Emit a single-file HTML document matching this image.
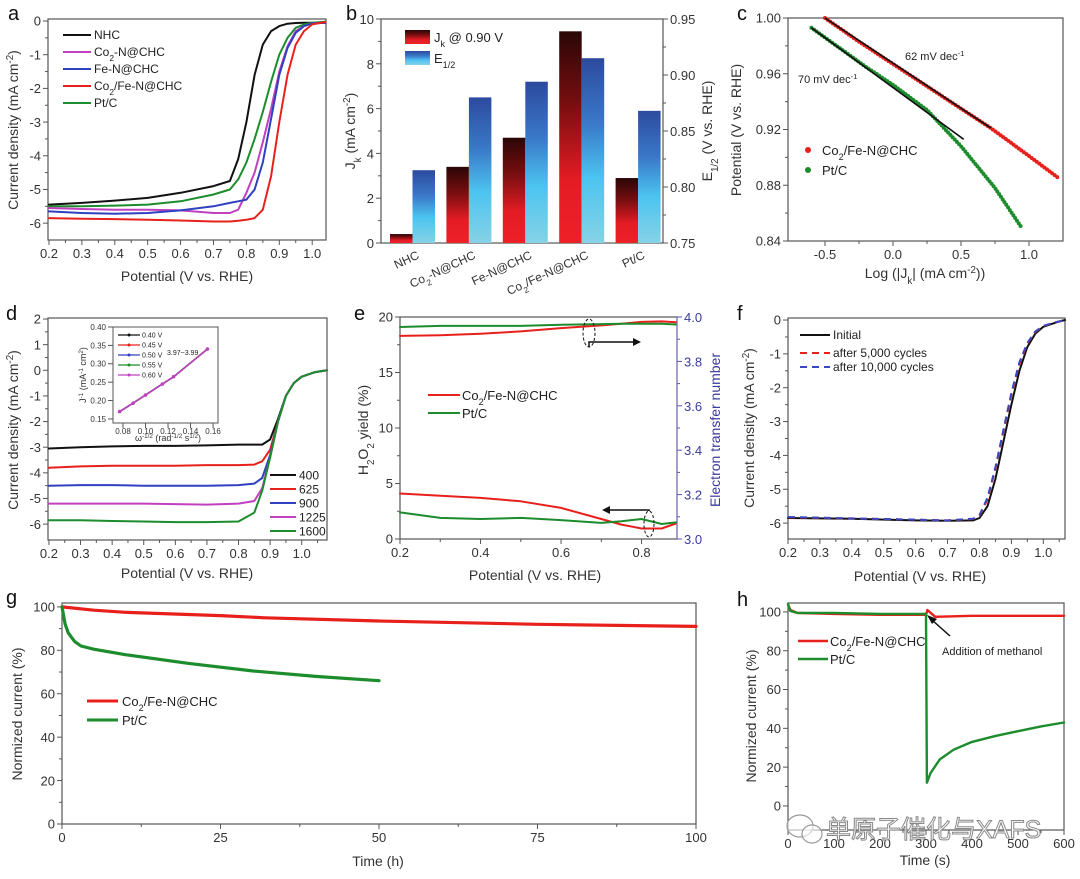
<!DOCTYPE html>
<html><head><meta charset="utf-8"><style>
html,body{margin:0;padding:0;background:#fff;}
svg{display:block;font-family:"Liberation Sans","Noto Sans CJK SC",sans-serif;}
</style></head><body>
<svg id="fig" width="1080" height="879" viewBox="0 0 1080 879" xmlns="http://www.w3.org/2000/svg">
<defs>
<linearGradient id="gRed" x1="0" y1="0" x2="0" y2="1"><stop offset="0" stop-color="#2a0606"/><stop offset="0.35" stop-color="#7a0e10"/><stop offset="0.7" stop-color="#e41c24"/><stop offset="1" stop-color="#ee2028"/></linearGradient>
<linearGradient id="gBlue" x1="0" y1="0" x2="0" y2="1"><stop offset="0" stop-color="#2c4a9e"/><stop offset="0.35" stop-color="#3a78c8"/><stop offset="0.65" stop-color="#4cc4f0"/><stop offset="1" stop-color="#86d2e6"/></linearGradient>
</defs>
</svg>
<script>
// ---- data ----
const aX=[0.2,0.3,0.4,0.5,0.6,0.7,0.75,0.775,0.8,0.825,0.85,0.875,0.9,0.925,0.95,0.975,1.0,1.04];
const aNHC=[-5.45,-5.4,-5.33,-5.25,-5.1,-4.9,-4.75,-4.1,-3.0,-1.6,-0.7,-0.3,-0.15,-0.08,-0.06,-0.05,-0.05,-0.05];
const aCoN=[-5.55,-5.58,-5.6,-5.6,-5.62,-5.7,-5.7,-5.6,-5.1,-4.5,-3.6,-2.6,-1.5,-0.75,-0.3,-0.15,-0.07,-0.05];
const aFeN=[-5.65,-5.7,-5.72,-5.7,-5.62,-5.5,-5.4,-5.35,-5.3,-5.0,-4.2,-2.9,-1.6,-0.8,-0.35,-0.15,-0.07,-0.05];
const aCoFe=[-5.85,-5.87,-5.88,-5.9,-5.92,-5.95,-5.95,-5.93,-5.9,-5.85,-5.6,-4.6,-3.0,-1.6,-0.7,-0.3,-0.1,-0.03];
const aPt=[-5.5,-5.5,-5.48,-5.45,-5.35,-5.15,-5.0,-4.7,-4.2,-3.5,-2.7,-1.8,-1.0,-0.5,-0.2,-0.1,-0.05,-0.02];
const bCats=["NHC","Co2-N@CHC","Fe-N@CHC","Co2/Fe-N@CHC","Pt/C"];
const bJk=[0.4,3.4,4.7,9.45,2.9];
const bE12=[0.815,0.88,0.894,0.915,0.868];
const cRedX=[-0.5,-0.25,0,0.25,0.5,0.72,1.0,1.22];
const cRedY=[1.0,0.983,0.967,0.951,0.935,0.921,0.901,0.885];
const cGrnX=[-0.6,-0.4,-0.2,0,0.25,0.5,0.75,0.95];
const cGrnY=[0.993,0.979,0.965,0.952,0.934,0.908,0.878,0.849];
const cFitRedX=[-0.5,0.72], cFitRedY=[1.0,0.921];
const cFitGrnX=[-0.6,0.52], cFitGrnY=[0.993,0.913];
const dX=[0.2,0.3,0.4,0.5,0.6,0.7,0.8,0.85,0.875,0.9,0.925,0.95,0.975,1.0,1.04,1.08];
const d400=[-3.05,-3.0,-2.97,-2.95,-2.95,-2.93,-2.9,-2.9,-2.9,-2.7,-1.9,-1.0,-0.5,-0.25,-0.08,0.0];
const d625=[-3.8,-3.75,-3.72,-3.72,-3.72,-3.7,-3.7,-3.68,-3.55,-3.1,-2.0,-1.0,-0.5,-0.25,-0.08,0.0];
const d900=[-4.5,-4.48,-4.48,-4.5,-4.5,-4.5,-4.48,-4.42,-4.2,-3.3,-2.0,-1.0,-0.5,-0.25,-0.08,0.0];
const d1225=[-5.2,-5.2,-5.2,-5.2,-5.22,-5.24,-5.2,-5.1,-4.6,-3.4,-2.0,-1.0,-0.5,-0.25,-0.08,0.0];
const d1600=[-5.85,-5.85,-5.88,-5.9,-5.92,-5.92,-5.9,-5.55,-4.7,-3.4,-2.0,-1.0,-0.5,-0.25,-0.08,0.0];
const dRpm=["400","625","900","1225","1600"];
const inX=[0.077,0.089,0.1,0.115,0.125,0.155];
const inY=[0.17,0.193,0.215,0.245,0.265,0.34];
const inLeg=["0.40 V","0.45 V","0.50 V","0.55 V","0.60 V"];
const eX=[0.2,0.3,0.4,0.5,0.6,0.7,0.75,0.8,0.85,0.885];
const eRedH=[4.1,3.9,3.7,3.4,2.8,1.8,1.3,0.95,0.95,1.4];
const eGrnH=[2.4,1.9,1.8,1.9,1.7,1.45,1.6,1.8,1.35,1.5];
const eRedN=[3.915,3.918,3.925,3.935,3.95,3.962,3.97,3.978,3.98,3.976];
const eGrnN=[3.955,3.96,3.96,3.96,3.965,3.968,3.97,3.97,3.97,3.966];
const fX=[0.2,0.4,0.6,0.7,0.78,0.8,0.825,0.85,0.875,0.9,0.925,0.95,0.975,1.0,1.04,1.068];
const fInit=[-5.85,-5.87,-5.92,-5.93,-5.92,-5.85,-5.5,-4.7,-3.6,-2.5,-1.5,-0.8,-0.4,-0.2,-0.07,0];
const f5k=[-5.83,-5.86,-5.9,-5.92,-5.88,-5.78,-5.3,-4.4,-3.3,-2.2,-1.3,-0.7,-0.35,-0.18,-0.06,0];
const f10k=[-5.82,-5.86,-5.9,-5.92,-5.87,-5.76,-5.25,-4.35,-3.25,-2.15,-1.25,-0.68,-0.34,-0.17,-0.06,0];
const gRedT=[0,5,10,25,32,50,75,100];
const gRedV=[100,98.5,97.5,96,95,93.5,92,91];
const gGrnT=[0,0.5,1,2,3,5,10,20,30,40,50];
const gGrnV=[100,92,88,84,82,80.5,78,74,70.5,68,66];
const hRedT=[0,5,20,100,200,295,300,303,320,400,500,600];
const hRedV=[104,101,99.5,99,98.5,98.5,98.5,101,97.5,98,98,98];
const hGrnT=[0,5,20,100,200,295,300,302,310,330,360,400,450,500,550,600];
const hGrnV=[104,100.5,99.5,99.5,99,99,99,12,17,24,29,33,36,38.5,41,43];

// ---- helpers ----
const NS='http://www.w3.org/2000/svg';
const svg=document.getElementById('fig');
function add(tag,attrs,name,parent){
  const el=document.createElementNS(NS,tag);
  for(const k in attrs) el.setAttribute(k,attrs[k]);
  
  
  (parent||svg).appendChild(el);return el;
}
function txt(x,y,html,name,o){
  o=o||{};
  const a={x:x,y:y,'font-size':o.fs||13,fill:o.fill||'#333','text-anchor':o.anchor||'middle'};
  if(o.rot!==undefined) a.transform='rotate('+o.rot+' '+x+' '+y+')';
  if(o.weight) a['font-weight']=o.weight;
  if(o.stroke){a.stroke=o.stroke;a['stroke-width']=o.sw||1;}
  const t=add('text',a,name);t.innerHTML=html;return t;
}
const sub=s=>'<tspan baseline-shift="sub" font-size="70%">'+s+'</tspan>';
const sup=s=>'<tspan baseline-shift="super" font-size="70%">'+s+'</tspan>';
function axes(c){
  const sx=v=>c.x0+(v-c.xmin)/(c.xmax-c.xmin)*(c.x1-c.x0);
  const sy=v=>c.y1-(v-c.ymin)/(c.ymax-c.ymin)*(c.y1-c.y0);
  add('rect',{x:c.x0,y:c.y0,width:c.x1-c.x0,height:c.y1-c.y0,fill:'none',stroke:'#555','stroke-width':c.bw||1.2},c.id+'-frame');
  const fs=c.fs||13;
  (c.xt||[]).forEach((v,i)=>{
    const x=sx(v);
    add('line',{x1:x,y1:c.y1,x2:x,y2:c.y1+5,stroke:'#555','stroke-width':1},c.id+'-x-tick');
    if(c.xl!==false) txt(x,c.y1+(c.xdy||18),c.xf?c.xf(v):String(v),c.id+'-x-tick-label',{fs:fs});
  });
  (c.xm||[]).forEach(v=>{const x=sx(v);
    add('line',{x1:x,y1:c.y1,x2:x,y2:c.y1+3,stroke:'#555','stroke-width':1},c.id+'-x-minor-tick');});
  (c.yt||[]).forEach(v=>{
    const y=sy(v);
    add('line',{x1:c.x0,y1:y,x2:c.x0-5,y2:y,stroke:'#555','stroke-width':1},c.id+'-y-tick');
    txt(c.x0-7,y+fs*0.36,c.yf?c.yf(v):String(v),c.id+'-y-tick-label',{fs:fs,anchor:'end'});
  });
  (c.ym||[]).forEach(v=>{const y=sy(v);
    add('line',{x1:c.x0,y1:y,x2:c.x0-3,y2:y,stroke:'#555','stroke-width':1},c.id+'-y-minor-tick');});
  return {sx,sy};
}
function line(ax,xs,ys,color,name,o){
  o=o||{};
  const pts=xs.map((x,i)=>ax.sx(x).toFixed(1)+','+ax.sy(ys[i]).toFixed(1)).join(' ');
  const a={points:pts,fill:'none',stroke:color,'stroke-width':o.w||2,'stroke-linejoin':'round','stroke-linecap':o.cap||'round'};
  if(o.dash) a['stroke-dasharray']=o.dash;
  return add('polyline',a,name);
}
const f1=v=>v.toFixed(1), f2=v=>v.toFixed(2);
const neg=v=>v<0?'-'+Math.abs(v):String(v);

// panel labels
[['a',8,20],['b',346,20],['c',737,20],['d',6,320],['e',354,320],['f',737,320],['g',6,604],['h',737,606]].forEach(p=>{
  txt(p[1],p[2],p[0],'panel-label-'+p[0],{fs:20,fill:'#111',anchor:'start'});
});

// ---- panel a ----
{
const ax=axes({id:'a',x0:48,x1:326,y0:19,y1:240,xmin:0.197,xmax:1.042,ymin:-6.5,ymax:0.06,
  xt:[0.2,0.3,0.4,0.5,0.6,0.7,0.8,0.9,1.0],xf:f1,xm:[0.25,0.35,0.45,0.55,0.65,0.75,0.85,0.95],
  yt:[0,-1,-2,-3,-4,-5,-6],yf:neg,ym:[-0.5,-1.5,-2.5,-3.5,-4.5,-5.5]});
line(ax,aX,aNHC,'#111','a-nhc-curve');
line(ax,aX,aPt,'#1c8c2c','a-ptc-curve');
line(ax,aX,aCoN,'#c040c0','a-co2n-curve');
line(ax,aX,aFeN,'#3040c0','a-fen-curve');
line(ax,aX,aCoFe,'#e8201c','a-co2fen-curve');
const leg=[['NHC','#111'],['Co'+sub('2')+'-N@CHC','#c040c0'],['Fe-N@CHC','#3040c0'],['Co'+sub('2')+'/Fe-N@CHC','#e8201c'],['Pt/C','#1c8c2c']];
leg.forEach((l,i)=>{const y=35+i*17;
  add('line',{x1:63,y1:y,x2:91,y2:y,stroke:l[1],'stroke-width':2},'a-legend-swatch');
  txt(94,y+4,l[0],'a-legend-entry',{fs:12,anchor:'start',fill:'#222'});});
txt(187,281,'Potential (V vs. RHE)','a-x-axis-title',{fs:14});
txt(18,130,'Current density (mA cm'+sup('-2')+')','a-y-axis-title',{fs:14,rot:-90});
}

// ---- panel b ----
{
const x0=381,x1=663,y0=19,y1=243;
add('rect',{x:x0,y:y0,width:x1-x0,height:y1-y0,fill:'none',stroke:'#555','stroke-width':1.2},'b-frame');
const syL=v=>y1-v/10*(y1-y0), syR=v=>y1-(v-0.75)/0.2*(y1-y0);
const gw=(x1-x0)/5;
bCats.forEach((c,i)=>{
  const gx=x0+gw*i+9;
  add('rect',{x:gx,y:syL(bJk[i]),width:22.5,height:y1-syL(bJk[i]),fill:'url(#gRed)'},'b-bar-jk-'+i);
  add('rect',{x:gx+22.5,y:syR(bE12[i]),width:22.5,height:y1-syR(bE12[i]),fill:'url(#gBlue)'},'b-bar-e12-'+i);
  const lab=c.replace('Co2','Co'+sub('2'));
  txt(gx+30,258,lab,'b-category-label',{fs:12,anchor:'end',rot:-25});
});
[0,2,4,6,8,10].forEach(v=>{const y=syL(v);
  add('line',{x1:x0,y1:y,x2:x0-5,y2:y,stroke:'#555'},'b-left-tick');
  txt(x0-7,y+5,String(v),'b-left-tick-label',{anchor:'end'});});
[1,3,5,7,9].forEach(v=>{const y=syL(v);add('line',{x1:x0,y1:y,x2:x0-3,y2:y,stroke:'#555'},'b-left-minor-tick');});
[0.75,0.8,0.85,0.9,0.95].forEach(v=>{const y=syR(v);
  add('line',{x1:x1,y1:y,x2:x1+5,y2:y,stroke:'#555'},'b-right-tick');
  txt(x1+7,y+5,f2(v),'b-right-tick-label',{anchor:'start'});});
[0.775,0.825,0.875,0.925].forEach(v=>{const y=syR(v);add('line',{x1:x1,y1:y,x2:x1+3,y2:y,stroke:'#555'},'b-right-minor-tick');});
add('rect',{x:405,y:30,width:25,height:14,fill:'url(#gRed)'},'b-legend-swatch-jk');
add('rect',{x:405,y:51,width:25,height:14,fill:'url(#gBlue)'},'b-legend-swatch-e12');
txt(434,42,'J'+sub('k')+' @ 0.90 V','b-legend-entry-jk',{fs:13,anchor:'start',fill:'#222'});
txt(434,63,'E'+sub('1/2'),'b-legend-entry-e12',{fs:13,anchor:'start',fill:'#222'});
txt(355,131,'J'+sub('k')+' (mA cm'+sup('-2')+')','b-y-axis-title',{fs:14,rot:-90});
txt(712,131,'E'+sub('1/2')+' (V vs. RHE)','b-right-axis-title',{fs:14,rot:-90});
}

// ---- panel c ----
{
const ax=axes({id:'c',x0:788,x1:1063,y0:18,y1:241,xmin:-0.772,xmax:1.25,ymin:0.84,ymax:1.0,
  xt:[-0.5,0,0.5,1.0],xf:f1,xm:[-0.25,0.25,0.75],yt:[0.84,0.88,0.92,0.96,1.0],yf:f2,ym:[0.86,0.9,0.94,0.98]});
line(ax,cRedX,cRedY,'#e8201c','c-co2fen-points',{w:4,dash:'0 3.2'});
line(ax,cGrnX,cGrnY,'#1c8c2c','c-ptc-points',{w:4,dash:'0 3.2'});
line(ax,cFitRedX,cFitRedY,'#111','c-fit-line-co2fen',{w:1.6,cap:'butt'});
line(ax,cFitGrnX,cFitGrnY,'#111','c-fit-line-ptc',{w:1.6,cap:'butt'});
txt(905,60,'62 mV dec'+sup('-1'),'c-slope-label-62',{fs:11,anchor:'start',fill:'#222'});
txt(798,83,'70 mV dec'+sup('-1'),'c-slope-label-70',{fs:11,anchor:'start',fill:'#222'});
add('circle',{cx:808,cy:150,r:3,fill:'#e8201c'},'c-legend-marker-co2fen');
add('circle',{cx:808,cy:170,r:3,fill:'#1c8c2c'},'c-legend-marker-ptc');
txt(822,155,'Co'+sub('2')+'/Fe-N@CHC','c-legend-entry',{fs:13,anchor:'start',fill:'#222'});
txt(822,175,'Pt/C','c-legend-entry',{fs:13,anchor:'start',fill:'#222'});
txt(925,278,'Log (|J'+sub('k')+'| (mA cm'+sup('-2')+'))','c-x-axis-title',{fs:14});
txt(741,130,'Potential (V vs. RHE)','c-y-axis-title',{fs:14,rot:-90});
}

// ---- panel d ----
{
const ax=axes({id:'d',x0:48,x1:327,y0:318,y1:540,xmin:0.197,xmax:1.08,ymin:-6.62,ymax:2.04,
  xt:[0.2,0.3,0.4,0.5,0.6,0.7,0.8,0.9,1.0],xf:f1,xm:[0.25,0.35,0.45,0.55,0.65,0.75,0.85,0.95,1.05],
  yt:[2,1,0,-1,-2,-3,-4,-5,-6],yf:neg,ym:[1.5,0.5,-0.5,-1.5,-2.5,-3.5,-4.5,-5.5]});
const ser=[d400,d625,d900,d1225,d1600], cols=['#111','#e8201c','#3040c0','#c040c0','#1c8c2c'];
ser.forEach((s,i)=>line(ax,dX,s,cols[i],'d-curve-'+dRpm[i]));
dRpm.forEach((r,i)=>{const y=475+i*14;
  add('line',{x1:270,y1:y,x2:296,y2:y,stroke:cols[i],'stroke-width':2},'d-legend-swatch');
  txt(299,y+4.5,r,'d-legend-entry',{fs:12,anchor:'start',fill:'#222'});});
// inset
const ix=axes({id:'d-inset',x0:113,x1:218,y0:327,y1:423,xmin:0.0711,xmax:0.1644,ymin:0.139,ymax:0.40,
  xt:[0.08,0.10,0.12,0.14,0.16],xf:f2,xdy:11,fs:8,yt:[0.15,0.2,0.25,0.3,0.35,0.4],yf:f2,bw:1});
const icol=['#111','#e8201c','#3040c0','#1c8c2c','#c040c0'];
icol.forEach((c,i)=>{line(ix,inX,inY,c,'d-inset-line-'+i,{w:1.5});});
inX.forEach((x,i)=>add('circle',{cx:ix.sx(x),cy:ix.sy(inY[i]),r:1.8,fill:'#c040c0'},'d-inset-marker'));
inLeg.forEach((l,i)=>{const y=335+i*10;
  add('line',{x1:118,y1:y,x2:140,y2:y,stroke:icol[i],'stroke-width':1.2},'d-inset-legend-swatch');
  add('circle',{cx:129,cy:y,r:1.5,fill:icol[i]},'d-inset-legend-marker');
  txt(142,y+2.5,l,'d-inset-legend-entry',{fs:7,anchor:'start',fill:'#222'});});
txt(167,355,'3.97~3.99','d-inset-n-label',{fs:7,anchor:'start',fill:'#222'});
txt(168,441,'ω'+sup('-1/2')+' (rad'+sup('-1/2')+' s'+sup('1/2')+')','d-inset-x-title',{fs:9});
txt(86,375,'J'+sup('-1')+' (mA'+sup('-1')+' cm'+sup('2')+')','d-inset-y-title',{fs:9,rot:-90});
txt(187,578,'Potential (V vs. RHE)','d-x-axis-title',{fs:14});
txt(18,430,'Current density (mA cm'+sup('-2')+')','d-y-axis-title',{fs:14,rot:-90});
}

// ---- panel e ----
{
const ax=axes({id:'e',x0:400,x1:677,y0:317,y1:539,xmin:0.2,xmax:0.888,ymin:0,ymax:20,
  xt:[0.2,0.4,0.6,0.8],xf:f1,xm:[0.3,0.5,0.7],yt:[0,5,10,15,20],ym:[2.5,7.5,12.5,17.5]});
const syN=v=>539-(v-3)*222;
const ax2={sx:ax.sx,sy:syN};
[3.0,3.2,3.4,3.6,3.8,4.0].forEach(v=>{const y=syN(v);
  add('line',{x1:677,y1:y,x2:682,y2:y,stroke:'#5555aa'},'e-right-tick');
  txt(684,y+5,f1(v),'e-right-tick-label',{anchor:'start',fill:'#3a3a9c'});});
[3.1,3.3,3.5,3.7,3.9].forEach(v=>{const y=syN(v);add('line',{x1:677,y1:y,x2:680,y2:y,stroke:'#5555aa'},'e-right-minor-tick');});
add('line',{x1:677,y1:317,x2:677,y2:539,stroke:'#7777bb','stroke-width':1.2},'e-right-axis');
line(ax,eX,eRedH,'#e8201c','e-h2o2-co2fen-curve');
line(ax,eX,eGrnH,'#1c8c2c','e-h2o2-ptc-curve');
line(ax2,eX,eRedN,'#e8201c','e-n-co2fen-curve');
line(ax2,eX,eGrnN,'#1c8c2c','e-n-ptc-curve');
add('ellipse',{cx:589,cy:333,rx:6,ry:14,fill:'none',stroke:'#111','stroke-dasharray':'3 2'},'e-ellipse-upper');
add('polyline',{points:'589,347 589,342 635,342',fill:'none',stroke:'#111','stroke-width':1.5},'e-arrow-upper');
add('polygon',{points:'641,342 633,338 633,346',fill:'#111'},'e-arrowhead-upper');
add('ellipse',{cx:649,cy:524,rx:5,ry:13,fill:'none',stroke:'#111','stroke-dasharray':'3 2'},'e-ellipse-lower');
add('polyline',{points:'649,511 649,510 608,510',fill:'none',stroke:'#111','stroke-width':1.5},'e-arrow-lower');
add('polygon',{points:'602,510 610,506 610,514',fill:'#111'},'e-arrowhead-lower');
add('line',{x1:428,y1:395,x2:460,y2:395,stroke:'#e8201c','stroke-width':2},'e-legend-swatch');
add('line',{x1:428,y1:413,x2:460,y2:413,stroke:'#1c8c2c','stroke-width':2},'e-legend-swatch');
txt(462,400,'Co'+sub('2')+'/Fe-N@CHC','e-legend-entry',{fs:13,anchor:'start',fill:'#222'});
txt(462,418,'Pt/C','e-legend-entry',{fs:13,anchor:'start',fill:'#222'});
txt(535,580,'Potential (V vs. RHE)','e-x-axis-title',{fs:14});
txt(368,430,'H'+sub('2')+'O'+sub('2')+' yield (%)','e-y-axis-title',{fs:14,rot:-90});
txt(720,430,'Electron transfer number','e-right-axis-title',{fs:14,rot:-90,fill:'#3a3a9c'});
}

// ---- panel f ----
{
const ax=axes({id:'f',x0:788,x1:1065,y0:318,y1:539,xmin:0.2,xmax:1.068,ymin:-6.47,ymax:0.06,
  xt:[0.2,0.3,0.4,0.5,0.6,0.7,0.8,0.9,1.0],xf:f1,xm:[0.25,0.35,0.45,0.55,0.65,0.75,0.85,0.95,1.05],
  yt:[0,-1,-2,-3,-4,-5,-6],yf:neg,ym:[-0.5,-1.5,-2.5,-3.5,-4.5,-5.5]});
line(ax,fX,fInit,'#111','f-initial-curve');
line(ax,fX,f5k,'#e8201c','f-5000-cycles-curve',{dash:'7 5',cap:'butt'});
line(ax,fX,f10k,'#3848c0','f-10000-cycles-curve',{dash:'7 5',cap:'butt'});
add('line',{x1:800,y1:335,x2:830,y2:335,stroke:'#111','stroke-width':2},'f-legend-swatch');
add('line',{x1:800,y1:353,x2:830,y2:353,stroke:'#e8201c','stroke-width':2,'stroke-dasharray':'7 5'},'f-legend-swatch');
add('line',{x1:800,y1:367,x2:830,y2:367,stroke:'#3848c0','stroke-width':2,'stroke-dasharray':'7 5'},'f-legend-swatch');
txt(833,339,'Initial','f-legend-entry',{fs:12,anchor:'start',fill:'#222'});
txt(833,357,'after 5,000 cycles','f-legend-entry',{fs:12,anchor:'start',fill:'#222'});
txt(833,371,'after 10,000 cycles','f-legend-entry',{fs:12,anchor:'start',fill:'#222'});
txt(920,581,'Potential (V vs. RHE)','f-x-axis-title',{fs:14});
txt(754,428,'Current density (mA cm'+sup('-2')+')','f-y-axis-title',{fs:14,rot:-90});
}

// ---- panel g ----
{
const ax=axes({id:'g',x0:62,x1:696,y0:603,y1:824,xmin:0,xmax:100,ymin:0,ymax:101.8,
  xt:[0,25,50,75,100],xm:[12.5,37.5,62.5,87.5],yt:[0,20,40,60,80,100],ym:[10,30,50,70,90]});
line(ax,gRedT,gRedV,'#e8201c','g-co2fen-curve',{w:3.2});
line(ax,gGrnT,gGrnV,'#1c8c2c','g-ptc-curve',{w:3.2});
add('line',{x1:87,y1:701,x2:118,y2:701,stroke:'#e8201c','stroke-width':3},'g-legend-swatch');
add('line',{x1:87,y1:720,x2:118,y2:720,stroke:'#1c8c2c','stroke-width':3},'g-legend-swatch');
txt(122,706,'Co'+sub('2')+'/Fe-N@CHC','g-legend-entry',{fs:13,anchor:'start',fill:'#222'});
txt(122,725,'Pt/C','g-legend-entry',{fs:13,anchor:'start',fill:'#222'});
txt(378,866,'Time (h)','g-x-axis-title',{fs:14,weight:'normal'});
txt(22,714,'Normized current (%)','g-y-axis-title',{fs:14,rot:-90});
}

// ---- panel h ----
{
const ax=axes({id:'h',x0:788,x1:1064,y0:603,y1:830,xmin:0,xmax:600,ymin:-12.4,ymax:104.6,
  xt:[0,100,200,300,400,500,600],xm:[50,150,250,350,450,550],yt:[0,20,40,60,80,100],ym:[10,30,50,70,90]});
line(ax,hRedT,hRedV,'#e8201c','h-co2fen-curve',{w:2.4});
line(ax,hGrnT,hGrnV,'#1c8c2c','h-ptc-curve',{w:2.4});
add('line',{x1:950,y1:636,x2:932,y2:620,stroke:'#111','stroke-width':1.5},'h-annotation-arrow');
add('polygon',{points:'927,615 937,619 932,624',fill:'#111'},'h-annotation-arrowhead');
txt(942,655,'Addition of methanol','h-annotation-label',{fs:11,anchor:'start',fill:'#222'});
add('line',{x1:798,y1:641,x2:828,y2:641,stroke:'#e8201c','stroke-width':2.4},'h-legend-swatch');
add('line',{x1:798,y1:659,x2:828,y2:659,stroke:'#1c8c2c','stroke-width':2.4},'h-legend-swatch');
txt(830,646,'Co'+sub('2')+'/Fe-N@CHC','h-legend-entry',{fs:13,anchor:'start',fill:'#222'});
txt(830,664,'Pt/C','h-legend-entry',{fs:13,anchor:'start',fill:'#222'});
txt(925,865,'Time (s)','h-x-axis-title',{fs:14});
txt(756,716,'Normized current (%)','h-y-axis-title',{fs:14,rot:-90});
// watermark
add('ellipse',{cx:800,cy:826,rx:13,ry:11,fill:'#fff','fill-opacity':0.6,stroke:'#999','stroke-width':1.2},'watermark-icon');
add('ellipse',{cx:812,cy:834,rx:10,ry:9,fill:'#fff','fill-opacity':0.6,stroke:'#999','stroke-width':1.2},'watermark-icon');
txt(826,838,'单原子催化与XAFS','watermark-text',{fs:25,anchor:'start',fill:'#fff',stroke:'#888',sw:1});
}
</script>
</body></html>
